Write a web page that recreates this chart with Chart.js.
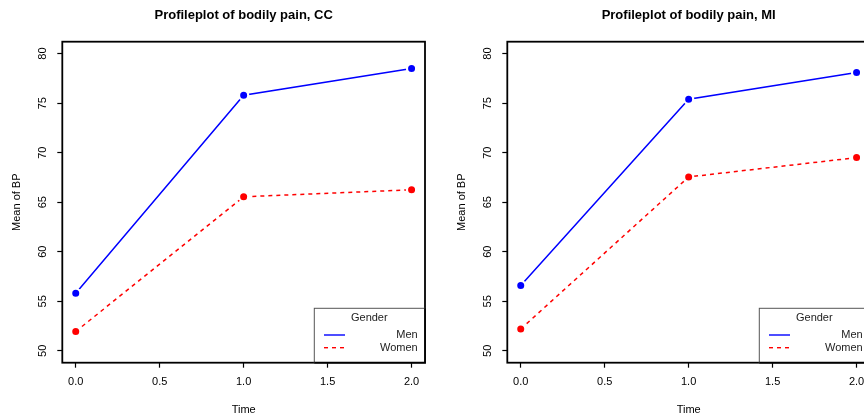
<!DOCTYPE html>
<html>
<head>
<meta charset="utf-8">
<script src="https://cdn.jsdelivr.net/npm/chart.js@4/dist/chart.umd.min.js"></script>
<style>
    html, body { margin: 0; padding: 0; background: #fff; overflow: hidden; }
    body { width: 864px; height: 418px; position: relative; }
    .panel { position: absolute; top: 0; width: 432px; height: 418px; }
</style>
</head>
<body>
<div class="panel" style="left:0px"><canvas id="chartCC" width="432" height="418"></canvas></div>
<div class="panel" style="left:445px"><canvas id="chartMI" width="432" height="418"></canvas></div>
<script>
// Data
const times = [0, 1, 2];
const menCC = [55.8, 75.8, 78.5];
const womenCC = [51.95, 65.55, 66.25];
const menMI = [56.6, 75.4, 78.1];
const womenMI = [52.2, 67.55, 69.5];

const xTicks = [0, 0.5, 1, 1.5, 2];
const yTicks = [50, 55, 60, 65, 70, 75, 80];
const seriesNames = ['Men', 'Women'];

const FONT = '"Liberation Sans", Arial, Helvetica, sans-serif';
const BLUE = '#0000ff';
const RED = '#ff0000';

// draws the R-style box, title, rotated y labels and the legend
const rStylePlugin = {
    id: 'rStyle',
    afterDraw(chart) {
        const ctx = chart.ctx;
        const area = chart.chartArea;
        const yScale = chart.scales.y;
        ctx.save();

        // plot box
        ctx.strokeStyle = '#000';
        ctx.lineWidth = 1.8;
        ctx.strokeRect(area.left, area.top, area.right - area.left, area.bottom - area.top);

        // title
        ctx.fillStyle = '#000';
        ctx.font = 'bold 13px ' + FONT;
        ctx.textAlign = 'center';
        ctx.textBaseline = 'middle';
        ctx.fillText(chart.options.plugins.rStyle.title, (area.left + area.right) / 2, 15);

        // y tick labels, rotated like R
        ctx.font = '11px ' + FONT;
        yScale.ticks.forEach(t => {
            const py = yScale.getPixelForValue(t.value);
            ctx.save();
            ctx.translate(area.left - 19.6, py);
            ctx.rotate(-Math.PI / 2);
            ctx.fillText(String(t.value), 0, 0);
            ctx.restore();
        });

        // y axis title
        ctx.save();
        ctx.translate(area.left - 45.5, (area.top + area.bottom) / 2);
        ctx.rotate(-Math.PI / 2);
        ctx.fillText('Mean of BP', 0, 0);
        ctx.restore();

        // legend box, bottom right
        const lw = 110.7, lh = 54.4;
        const lx = area.right - lw, ly = area.bottom - lh;
        ctx.fillStyle = '#fff';
        ctx.fillRect(lx, ly, lw, lh);
        ctx.strokeStyle = '#555';
        ctx.lineWidth = 1;
        ctx.strokeRect(lx, ly, lw, lh);
        // redraw the box edges the legend sits on
        ctx.strokeStyle = '#000';
        ctx.lineWidth = 1.8;
        ctx.beginPath();
        ctx.moveTo(lx, area.bottom);
        ctx.lineTo(area.right, area.bottom);
        ctx.lineTo(area.right, ly);
        ctx.stroke();

        ctx.fillStyle = '#222';
        ctx.font = '11px ' + FONT;
        ctx.textAlign = 'center';
        ctx.fillText('Gender', lx + 55, ly + 10);

        const colors = [BLUE, RED];
        const dashes = [[], [4, 4]];
        seriesNames.forEach((name, i) => {
            const ry = ly + 26.7 + i * 12.7;
            ctx.strokeStyle = colors[i];
            ctx.lineWidth = 1.4;
            ctx.setLineDash(dashes[i]);
            ctx.beginPath();
            ctx.moveTo(lx + 9.7, ry);
            ctx.lineTo(lx + 30.7, ry);
            ctx.stroke();
            ctx.setLineDash([]);
            ctx.fillStyle = '#222';
            ctx.textAlign = 'right';
            ctx.fillText(name, area.right - 7.3, ry);
        });

        ctx.restore();
    }
};

function makePanel(canvasId, title, men, women) {
    const ctx = document.getElementById(canvasId).getContext('2d');
    const pointStyle = {
        pointRadius: 4.6,
        pointBorderWidth: 2.2,
        pointBorderColor: '#fff'
    };
    return new Chart(ctx, {
        type: 'line',
        data: {
            datasets: [
                Object.assign({
                    label: seriesNames[0],
                    data: times.map((t, i) => ({ x: t, y: men[i] })),
                    borderColor: BLUE,
                    backgroundColor: BLUE,
                    pointBackgroundColor: BLUE,
                    borderWidth: 1.5
                }, pointStyle),
                Object.assign({
                    label: seriesNames[1],
                    data: times.map((t, i) => ({ x: t, y: women[i] })),
                    borderColor: RED,
                    backgroundColor: RED,
                    pointBackgroundColor: RED,
                    borderWidth: 1.5,
                    borderDash: [4, 4]
                }, pointStyle)
            ]
        },
        options: {
            responsive: false,
            animation: false,
            layout: { padding: { top: 41.7, right: 7, left: 0, bottom: 0 } },
            scales: {
                x: {
                    type: 'linear',
                    min: -0.08,
                    max: 2.08,
                    afterBuildTicks: scale => { scale.ticks = xTicks.map(v => ({ value: v })); },
                    afterFit: scale => { scale.height = 55.3; },
                    ticks: {
                        color: '#000',
                        padding: 8,
                        font: { family: FONT, size: 11 },
                        callback: v => v.toFixed(1),
                        maxRotation: 0
                    },
                    grid: {
                        drawOnChartArea: false,
                        drawTicks: true,
                        tickLength: 5,
                        tickColor: '#000',
                        tickWidth: 1.2
                    },
                    border: { display: false },
                    title: {
                        display: true,
                        text: 'Time',
                        color: '#000',
                        font: { family: FONT, size: 11 },
                        padding: { top: 0, bottom: 1.4 }
                    }
                },
                y: {
                    type: 'linear',
                    min: 48.8,
                    max: 81.2,
                    afterBuildTicks: scale => { scale.ticks = yTicks.map(v => ({ value: v })); },
                    afterFit: scale => { scale.width = 62.3; },
                    ticks: { display: false },
                    grid: {
                        drawOnChartArea: false,
                        drawTicks: true,
                        tickLength: 5,
                        tickColor: '#000',
                        tickWidth: 1.2
                    },
                    border: { display: false }
                }
            },
            plugins: {
                legend: { display: false },
                title: { display: false },
                tooltip: { enabled: false },
                rStyle: { title: title }
            }
        },
        plugins: [rStylePlugin]
    });
}

makePanel('chartCC', 'Profileplot of bodily pain, CC', menCC, womenCC);
makePanel('chartMI', 'Profileplot of bodily pain, MI', menMI, womenMI);
</script>
</body>
</html>
